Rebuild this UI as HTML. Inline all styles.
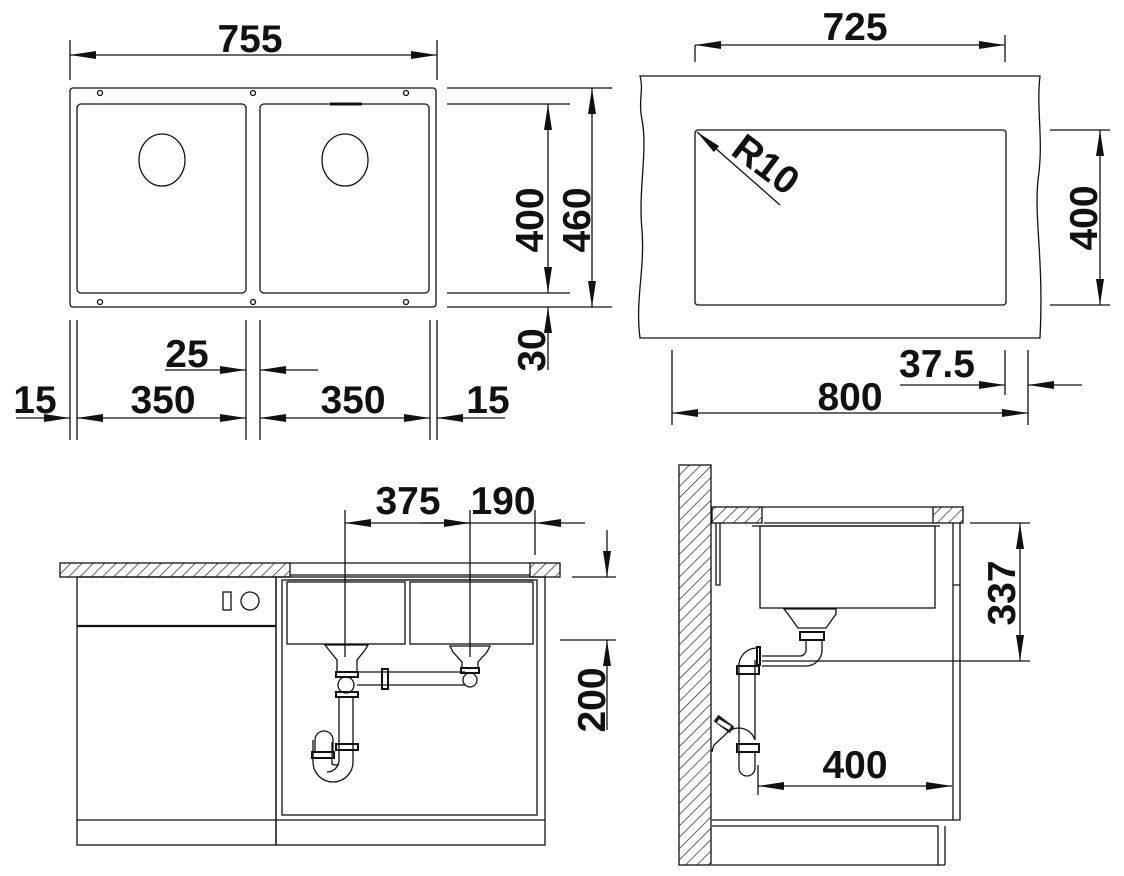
<!DOCTYPE html>
<html><head><meta charset="utf-8"><style>
html,body{margin:0;padding:0;background:#fff}
svg{display:block}
text{font-family:"Liberation Sans",Arial,sans-serif;font-size:39px;font-weight:bold;fill:#111}
</style></head><body>
<svg width="1124" height="876" viewBox="0 0 1124 876" xmlns="http://www.w3.org/2000/svg">
<defs>
<marker id="a" viewBox="0 0 26 8" refX="26" refY="4" markerWidth="26" markerHeight="8" markerUnits="userSpaceOnUse" orient="auto-start-reverse"><path d="M0,0 L26,4 L0,8 z" fill="#111"/></marker>
<pattern id="h" width="8" height="8" patternUnits="userSpaceOnUse" patternTransform="rotate(45)"><line x1="0" y1="0" x2="0" y2="8" stroke="#222" stroke-width="1.4"/></pattern>
</defs>
<g fill="none" stroke="#111" stroke-width="1.3">
<rect x="70" y="88" width="366" height="219" rx="3"/>
<rect x="77" y="104" width="169" height="189" rx="4"/>
<rect x="260" y="104" width="169" height="189" rx="4"/>
<ellipse cx="162" cy="160" rx="23" ry="26"/>
<ellipse cx="345" cy="160" rx="23" ry="26"/>
<line x1="330" y1="104" x2="362" y2="104" stroke-width="3"/>
<circle cx="100" cy="93" r="2.5"/><circle cx="253" cy="93" r="2.5"/><circle cx="406" cy="93" r="2.5"/>
<circle cx="100" cy="302" r="2.5"/><circle cx="253" cy="302" r="2.5"/><circle cx="406" cy="302" r="2.5"/>
<line x1="70" y1="40" x2="70" y2="80"/><line x1="437" y1="40" x2="437" y2="80"/>
<line x1="70" y1="55" x2="437" y2="55" marker-start="url(#a)" marker-end="url(#a)"/>
<line x1="447" y1="88" x2="612" y2="88"/><line x1="447" y1="104" x2="570" y2="104"/>
<line x1="447" y1="293" x2="570" y2="293"/><line x1="447" y1="307" x2="612" y2="307"/>
<line x1="548" y1="104" x2="548" y2="293" marker-start="url(#a)" marker-end="url(#a)"/>
<line x1="592" y1="88" x2="592" y2="307" marker-start="url(#a)" marker-end="url(#a)"/>
<line x1="548" y1="370" x2="548" y2="307" marker-end="url(#a)"/>
<line x1="70" y1="320" x2="70" y2="440"/><line x1="77" y1="320" x2="77" y2="440"/>
<line x1="246" y1="320" x2="246" y2="440"/><line x1="260" y1="320" x2="260" y2="440"/>
<line x1="430" y1="320" x2="430" y2="440"/><line x1="437" y1="320" x2="437" y2="440"/>
<line x1="16" y1="418" x2="70" y2="418" marker-end="url(#a)"/>
<line x1="77" y1="418" x2="246" y2="418" marker-start="url(#a)" marker-end="url(#a)"/>
<line x1="260" y1="418" x2="430" y2="418" marker-start="url(#a)" marker-end="url(#a)"/>
<line x1="505" y1="418" x2="437" y2="418" marker-end="url(#a)"/>
<line x1="165" y1="370" x2="246" y2="370" marker-end="url(#a)"/>
<line x1="318" y1="370" x2="260" y2="370" marker-end="url(#a)"/>
<path d="M640,76 L1040,76 C1036,110 1044,140 1038,180 C1034,220 1044,260 1040,338 L640,338 C635,300 645,270 642,230 C638,190 648,150 642,120 C638,100 644,90 640,76 z"/>
<rect x="695" y="130" width="311" height="175" rx="3"/>
<line x1="780" y1="205" x2="697" y2="132" marker-end="url(#a)"/>
<line x1="695" y1="45" x2="695" y2="62"/><line x1="1005" y1="35" x2="1005" y2="62"/>
<line x1="695" y1="45" x2="1005" y2="45" marker-start="url(#a)" marker-end="url(#a)"/>
<line x1="1050" y1="130" x2="1110" y2="130"/><line x1="1050" y1="305" x2="1110" y2="305"/>
<line x1="1100" y1="130" x2="1100" y2="305" marker-start="url(#a)" marker-end="url(#a)"/>
<line x1="672" y1="350" x2="672" y2="425"/><line x1="1005" y1="350" x2="1005" y2="395"/><line x1="1028" y1="350" x2="1028" y2="425"/>
<line x1="672" y1="413" x2="1028" y2="413" marker-start="url(#a)" marker-end="url(#a)"/>
<line x1="900" y1="385" x2="1005" y2="385" marker-end="url(#a)"/>
<line x1="1082" y1="385" x2="1028" y2="385" marker-end="url(#a)"/>
<rect x="60" y="563" width="230" height="14" fill="url(#h)"/>
<rect x="530" y="563" width="30" height="14" fill="url(#h)"/>
<path d="M290,563 L530,563 M290,575 L530,575 M288,580 L533,580"/>
<rect x="77" y="577" width="199" height="268"/>
<line x1="77" y1="626" x2="276" y2="626" stroke-width="2.2"/>
<line x1="77" y1="820" x2="276" y2="820"/>
<rect x="223" y="592" width="8" height="18"/><circle cx="250" cy="601" r="9"/>
<rect x="276" y="577" width="269" height="268"/>
<rect x="282" y="580" width="255" height="235"/>
<line x1="276" y1="820" x2="545" y2="820"/>
<rect x="287" y="582" width="118" height="62"/>
<rect x="410" y="582" width="123" height="62"/>
<line x1="345" y1="510" x2="345" y2="657"/><line x1="470" y1="510" x2="470" y2="657"/><line x1="535" y1="510" x2="535" y2="555"/>
<line x1="345" y1="523" x2="470" y2="523" marker-start="url(#a)"/>
<line x1="420" y1="523" x2="470" y2="523" marker-end="url(#a)"/>
<line x1="470" y1="523" x2="535" y2="523"/>
<line x1="585" y1="523" x2="535" y2="523" marker-end="url(#a)"/>
<line x1="572" y1="577" x2="616" y2="577"/><line x1="560" y1="640" x2="616" y2="640"/>
<line x1="607" y1="530" x2="607" y2="577" marker-end="url(#a)"/>
<line x1="607" y1="730" x2="607" y2="640" marker-end="url(#a)"/>
<path d="M325,645 L368,645 L365,650 L357,660 L357,672 L337,672 L337,660 L329,650 z"/>
<rect x="336" y="672" width="22" height="5" stroke-width="2"/>
<ellipse cx="346" cy="685" rx="8" ry="8"/>
<rect x="336" y="692" width="22" height="5" stroke-width="2"/>
<path d="M339,697 L339,760 A12,12 0 0 1 327,772 M353,697 L353,762 A20,20 0 0 1 313,762 L313,740 M332,742 L332,764 A7,7 0 0 0 339,764"/>
<rect x="336" y="744" width="22" height="6" stroke-width="2"/>
<rect x="312" y="752" width="22" height="6" stroke-width="2"/>
<path d="M315,752 L315,740 A9,9 0 0 1 333,740 L333,752"/>
<path d="M357,672 L465,672 M357,685 L465,685"/>
<rect x="382" y="669" width="6" height="20" stroke-width="2"/>
<path d="M450,646 L490,646 L487,652 L478,662 L478,668 L462,668 L462,662 L453,652 z"/>
<rect x="461" y="668" width="18" height="5" stroke-width="2"/>
<circle cx="470" cy="680" r="7"/>
<rect x="679" y="465" width="32" height="400" fill="url(#h)"/>
<rect x="712" y="507" width="50" height="16" fill="url(#h)"/>
<rect x="933" y="507" width="30" height="16" fill="url(#h)"/>
<path d="M762,507 L933,507 M764,523 L933,523 M752,526 L940,526"/>
<rect x="760" y="526" width="175" height="82"/>
<path d="M716,523 L716,585 L720,585 L720,523"/>
<path d="M953,523 L953,820 L960,820 L960,523 M953,585 L960,585"/>
<path d="M712,820 L953,820 M712,826 L938,826 L938,865 M945,826 L945,865 M712,865 L945,865"/>
<path d="M784,609 L836,609 L836,614 L826,628 L798,628 L788,614 z"/>
<rect x="800" y="632" width="24" height="8" stroke-width="2"/>
<path d="M822,640 L822,650 A16,16 0 0 1 806,666 L762,666 M806,640 L806,650 A6,6 0 0 1 800,656 L762,656"/>
<path d="M760,647 L760,665 L757,665 L757,647 z" stroke-width="2"/>
<path d="M757,648 A18,18 0 0 0 739,668 L739,755 M757,661 L755,661 L755,740"/>
<rect x="737" y="666" width="22" height="8" stroke-width="2"/>
<rect x="737" y="744" width="22" height="8" stroke-width="2"/>
<path d="M739,752 L739,768 A8,8 0 0 0 755,768 L755,752"/>
<path d="M755,740 A17,17 0 0 0 725,735 L714,745 A30,30 0 0 0 712,752"/>
<path d="M716,718 L732,730" stroke-width="8" stroke="#222"/>
<path d="M718,721 L730,728" stroke-width="4" stroke="#fff"/>
<line x1="762" y1="661" x2="1030" y2="661"/>
<line x1="970" y1="523" x2="1030" y2="523"/>
<line x1="1020" y1="523" x2="1020" y2="661" marker-start="url(#a)" marker-end="url(#a)"/>
<line x1="758" y1="765" x2="758" y2="795"/>
<line x1="758" y1="786" x2="952" y2="786" marker-start="url(#a)" marker-end="url(#a)"/>
</g>
<g>
<text x="250" y="52" text-anchor="middle">755</text>
<text transform="translate(543,220) rotate(-90)" text-anchor="middle">400</text>
<text transform="translate(590,220) rotate(-90)" text-anchor="middle">460</text>
<text transform="translate(545,350) rotate(-90)" text-anchor="middle">30</text>
<text x="187" y="367" text-anchor="middle">25</text>
<text x="35" y="413" text-anchor="middle">15</text>
<text x="163" y="413" text-anchor="middle">350</text>
<text x="353" y="413" text-anchor="middle">350</text>
<text x="488" y="413" text-anchor="middle">15</text>
<text x="855" y="40" text-anchor="middle">725</text>
<text transform="translate(758,175) rotate(37)" text-anchor="middle">R10</text>
<text transform="translate(1097,218) rotate(-90)" text-anchor="middle">400</text>
<text x="937" y="377" text-anchor="middle" font-size="34">37.5</text>
<text x="850" y="410" text-anchor="middle">800</text>
<text x="408" y="514" text-anchor="middle">375</text>
<text x="503" y="514" text-anchor="middle">190</text>
<text transform="translate(605,700) rotate(-90)" text-anchor="middle">200</text>
<text transform="translate(1015,593) rotate(-90)" text-anchor="middle">337</text>
<text x="855" y="778" text-anchor="middle">400</text>
</g>
</svg>
</body></html>
